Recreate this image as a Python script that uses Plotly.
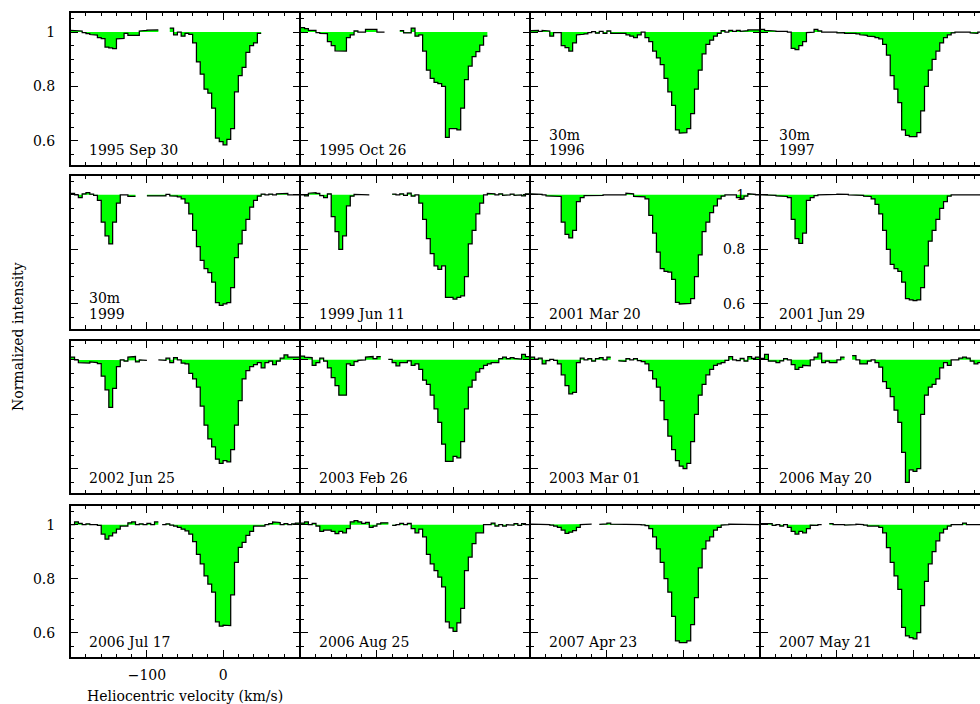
import plotly.graph_objects as go

# ---------------- data ----------------
VELOCITY = list(range(-200, 100, 5))   # channel start velocities (km/s)
BIN_WIDTH = 5
N = None

I_1995_SEP30 = [
    1.006, 1.005, 1.004, 0.998, 0.994, 0.991, 0.989, 0.98, 0.976, 0.945,
    0.942, 0.939, 0.975, 0.977, 0.995, 0.988, 0.988, 0.988, 1.004, 1.006,
    1.007, 1.008, 1.008, N, N, N, 1.015, 0.99, 1.0, 0.985,
    0.995, 0.992, 0.96, 0.89, 0.845, 0.79, 0.775, 0.72, 0.61, 0.597,
    0.585, 0.605, 0.645, 0.78, 0.84, 0.87, 0.925, 0.95, 0.96, 0.995,
    N, N, N, N, N, N, N, N, N, N]
I_1995_OCT26 = [
    1.016, 1.013, 1.006, 1.006, 0.998, 0.995, 0.994, 0.965, 0.95, 0.931,
    0.93, 0.93, 0.98, 0.99, 1.004, 1.0, 1.0, 1.01, 1.01, 1.01,
    1.0, 1.0, N, N, N, N, 1.005, 0.997, 0.997, 1.015,
    0.985, 0.99, 0.93, 0.86, 0.83, 0.815, 0.81, 0.8, 0.613, 0.645,
    0.645, 0.64, 0.72, 0.825, 0.875, 0.91, 0.928, 0.952, 0.985, N,
    N, N, N, N, N, N, N, N, N, N]
I_1996 = [
    1.005, 1.006, 1.003, 1.006, 1.004, 0.985, 0.998, 0.998, 0.95, 0.943,
    0.93, 0.96, 0.99, 0.992, 0.993, 0.998, 1.002, 0.996, 1.003, 0.995,
    1.004, 0.995, 0.995, 0.993, 0.995, 0.99, 0.985, 0.98, 0.99, 1.0,
    0.98, 0.965, 0.93, 0.905, 0.88, 0.83, 0.78, 0.73, 0.64, 0.628,
    0.63, 0.645, 0.7, 0.79, 0.86, 0.92, 0.955, 0.97, 0.985, 0.995,
    1.005, 1.0, 1.006, 1.003, 1.006, 1.003, 1.005, 1.008, 1.01, 1.008]
I_1997 = [
    1.01, 1.006, 1.005, 1.004, 1.003, 1.003, 1.003, 1.0, 0.94, 0.935,
    0.95, 0.965, 0.998, 1.0, 1.01, 1.004, 1.0, 1.0, 0.998, 1.0,
    0.997, 0.998, 0.995, 0.996, 0.995, 0.993, 0.99, 0.988, 0.985, 0.983,
    0.98, 0.975, 0.955, 0.915, 0.84, 0.79, 0.74, 0.64, 0.62, 0.615,
    0.615, 0.63, 0.71, 0.8, 0.86, 0.9, 0.93, 0.96, 0.98, 0.99,
    0.997, 1.0, 1.0, 0.998, 1.0, 0.997, 0.995, 1.0, 1.0, 1.0]
I_1999 = [
    1.005, 1.0, 0.99, 1.004, 1.008, 1.003, 0.998, 0.98, 0.9, 0.85,
    0.82, 0.9, 0.97, 1.0, 1.0, 0.994, 0.994, N, N, N,
    0.996, 0.996, 0.997, 0.995, 0.996, 1.002, 0.996, 0.995, 0.993, 0.985,
    0.97, 0.93, 0.87, 0.81, 0.76, 0.73, 0.715, 0.68, 0.605, 0.595,
    0.6, 0.605, 0.66, 0.77, 0.82, 0.87, 0.91, 0.955, 0.98, 0.995,
    1.003, 1.0, 1.003, 1.0, 1.004, 1.003, 1.005, 1.0, 1.0, 1.0]
I_1999_JUN11 = [
    1.0, 0.996, 1.006, 1.008, 1.005, 0.997, 0.99, 1.004, 0.92, 0.865,
    0.8, 0.85, 0.96, 0.995, 1.002, 1.0, 1.0, 1.0, N, N,
    N, N, N, N, 1.003, 1.0, 1.004, 0.998, 1.006, 0.995,
    1.0, 0.97, 0.91, 0.84, 0.785, 0.74, 0.727, 0.74, 0.624, 0.624,
    0.618, 0.624, 0.63, 0.7, 0.82, 0.87, 0.93, 0.97, 1.0, 1.005,
    1.004, 1.0, 1.004, 0.998, 1.0, 1.003, 0.998, 1.0, 0.996, 1.004]
I_2001_MAR20 = [
    1.004, 1.004, 1.002, 1.0, 0.996, 0.996, 0.994, 0.994, 0.9, 0.855,
    0.842, 0.87, 0.975, 0.99, 0.997, 0.998, 0.996, 0.998, 0.998, 1.0,
    1.002, 1.0, 1.0, 1.0, 1.0, 1.006, 1.004, 0.994, 0.994, 0.993,
    0.985, 0.925, 0.86, 0.79, 0.73, 0.72, 0.717, 0.69, 0.606, 0.6,
    0.6, 0.602, 0.62, 0.7, 0.78, 0.865, 0.9, 0.935, 0.96, 0.985,
    0.995, 1.0, 1.0, 1.0, 0.99, 0.985, 0.995, 1.004, 1.002, 1.0]
I_2001_JUN29 = [
    1.0, 1.0, 0.998, 0.998, 0.996, 0.995, 0.994, 0.99, 0.91, 0.84,
    0.822, 0.86, 0.98, 0.99, 0.997, 1.0, 1.0, 1.0, 1.002, 1.002,
    1.003, 1.004, 1.002, 1.0, 1.0, 1.0, 0.998, 0.995, 0.994, 0.985,
    0.965, 0.93, 0.87, 0.8, 0.745, 0.73, 0.72, 0.68, 0.62, 0.615,
    0.612, 0.615, 0.66, 0.74, 0.83, 0.87, 0.91, 0.95, 0.975, 0.995,
    1.0, 1.0, 1.0, 1.0, 1.0, 1.0, 1.0, 1.0, 1.0, 1.0]
I_2002_JUN25 = [
    1.01, 1.0, 0.99, 0.99, 0.988, 0.992, 0.99, 0.986, 0.94, 0.89,
    0.825, 0.895, 0.975, 1.0, 0.995, 1.01, 1.012, 0.992, 1.0, 0.998,
    N, N, N, 1.0, 0.998, 1.006, 0.99, 1.008, 1.0, 0.988,
    0.985, 0.95, 0.93, 0.9, 0.83, 0.76, 0.71, 0.68, 0.635, 0.62,
    0.63, 0.625, 0.67, 0.76, 0.85, 0.93, 0.96, 0.975, 0.982, 0.99,
    0.97, 0.99, 0.995, 0.982, 0.995, 1.006, 1.018, 1.01, 1.008, 1.01]
I_2003_FEB26 = [
    1.014, 1.01, 1.008, 0.98, 0.99, 1.006, 0.995, 0.97, 0.935, 0.905,
    0.87, 0.87, 0.985, 0.98, 0.993, 0.998, 1.0, 1.01, 1.012, 1.004,
    1.012, N, N, 1.002, 0.99, 0.978, 0.99, 0.99, 0.996, 0.98,
    0.985, 0.965, 0.925, 0.91, 0.87, 0.82, 0.77, 0.69, 0.627, 0.627,
    0.645, 0.64, 0.7, 0.82, 0.9, 0.925, 0.955, 0.968, 0.98, 0.985,
    0.99, 0.99, 1.004, 1.01, 1.004, 1.008, 1.005, 1.003, 1.02, 1.012]
I_2003_MAR01 = [
    1.01, 1.003, 1.006, 0.985, 0.997, 1.002, 0.998, 0.985, 0.945, 0.905,
    0.875, 0.88, 0.99, 1.006, 1.0, 1.004, 0.995, 1.004, 1.008, 1.0,
    1.01, N, N, 0.996, 0.994, 1.004, 1.0, 1.004, 0.997, 0.993,
    0.985, 0.96, 0.93, 0.9, 0.85, 0.78, 0.72, 0.67, 0.63, 0.61,
    0.6, 0.62, 0.7, 0.8, 0.87, 0.91, 0.945, 0.965, 0.98, 0.985,
    0.99, 0.998, 1.012, 1.0, 0.997, 1.005, 0.995, 1.012, 1.005, 1.01]
I_2006_MAY20 = [
    1.005, 1.02, 0.995, 0.995, 0.99, 0.996, 1.004, 1.0, 0.982, 0.965,
    0.972, 0.98, 0.978, 1.0, 1.01, 1.025, 0.99, 0.995, 0.99, 0.99,
    1.0, 1.01, N, N, 1.015, 1.0, 0.985, 0.985, 0.995, 1.0,
    0.99, 0.973, 0.92, 0.895, 0.865, 0.815, 0.77, 0.66, 0.55, 0.596,
    0.59, 0.6, 0.8, 0.87, 0.9, 0.91, 0.93, 0.97, 0.99, 0.98,
    1.0, 1.0, 1.006, 1.01, 1.006, 0.995, 0.985, 0.99, 1.0, 1.0]
I_2006_JUL17 = [
    1.0, 1.01, 1.005, 1.0, 1.003, 1.0, 1.0, 0.997, 0.965, 0.946,
    0.958, 0.97, 0.983, 0.995, 0.995, 1.007, 1.01, 1.0, 1.003, 1.0,
    1.005, 1.0, 1.01, N, 1.0, 1.003, 0.998, 0.995, 0.99, 0.983,
    0.977, 0.965, 0.937, 0.89, 0.855, 0.81, 0.78, 0.75, 0.64, 0.624,
    0.628, 0.626, 0.74, 0.86, 0.916, 0.934, 0.96, 0.975, 0.995, 0.993,
    0.995, 1.0, 1.004, 1.01, 1.008, 1.0, 1.004, 1.0, 1.003, 1.006]
I_2006_AUG25 = [
    1.006, 1.01, 1.0, 1.005, 0.995, 0.975, 0.98, 0.98, 0.975, 0.967,
    0.975, 0.97, 0.985, 1.01, 1.015, 1.01, 1.005, 1.008, 0.99, 0.995,
    1.003, 1.007, 1.007, N, 0.997, 1.0, 1.005, 1.0, 1.005, 0.985,
    0.97, 0.983, 0.955, 0.89, 0.855, 0.83, 0.806, 0.77, 0.64, 0.618,
    0.605, 0.636, 0.69, 0.83, 0.88, 0.93, 0.97, 0.97, 1.0, 1.0,
    1.006, 0.995, 1.0, 0.995, 1.0, 0.998, 1.004, 0.997, 1.004, 1.0]
I_2007_APR23 = [
    1.002, 1.0, 1.0, 1.0, 1.0, 0.998, 0.995, 0.99, 0.98, 0.968,
    0.972, 0.978, 0.99, 1.0, 1.0, 1.002, N, N, 1.001, 1.003,
    1.006, 1.002, 1.0, 1.0, 1.0, 1.0, 1.0, 1.0, 1.0, 0.999,
    0.996, 0.985, 0.955, 0.91, 0.86, 0.8, 0.75, 0.66, 0.57, 0.563,
    0.563, 0.57, 0.63, 0.73, 0.84, 0.91, 0.94, 0.955, 0.98, 0.99,
    0.998, 1.0, 1.002, 1.002, 1.0, 1.002, 1.002, 1.0, 1.0, 1.0]
I_2007_MAY21 = [
    1.004, 1.006, 1.004, 0.997, 1.0, 0.995, 1.0, 0.99, 0.975, 0.965,
    0.975, 0.97, 0.985, 0.998, 0.997, 1.0, N, N, 1.004, 1.0,
    1.002, 1.0, 0.998, 0.998, 1.0, 1.002, 1.0, 0.998, 0.995, 0.997,
    0.995, 0.99, 0.97, 0.915, 0.86, 0.81, 0.76, 0.62, 0.588, 0.582,
    0.577, 0.6, 0.7, 0.79, 0.855, 0.9, 0.94, 0.97, 0.983, 0.995,
    1.0, 1.0, 1.0, 1.006, 1.0, 1.0, 1.0, 0.998, 1.0, 1.0]

PANEL_LABELS = [
    ["1995 Sep 30"], ["1995 Oct 26"], ["30m", "1996"], ["30m", "1997"],
    ["30m", "1999"], ["1999 Jun 11"], ["2001 Mar 20"], ["2001 Jun 29"],
    ["2002 Jun 25"], ["2003 Feb 26"], ["2003 Mar 01"], ["2006 May 20"],
    ["2006 Jul 17"], ["2006 Aug 25"], ["2007 Apr 23"], ["2007 May 21"],
]
PANEL_DATA = [
    I_1995_SEP30, I_1995_OCT26, I_1996, I_1997,
    I_1999, I_1999_JUN11, I_2001_MAR20, I_2001_JUN29,
    I_2002_JUN25, I_2003_FEB26, I_2003_MAR01, I_2006_MAY20,
    I_2006_JUL17, I_2006_AUG25, I_2007_APR23, I_2007_MAY21,
]
Y_TICK_VALS = [0.6, 0.8, 1.0]
Y_TICK_TEXT = ["0.6", "0.8", "1"]
X_TICK_VALS = [-100, 0]
X_TICK_TEXT = ["\u2212100", "0"]
X_TITLE = "Heliocentric velocity (km/s)"
Y_TITLE = "Normalized intensity"

# ---------------- layout geometry (viewport pixels) ----------------
W, H = 980, 704
LW = 1.5                             # frame line width
COL_PX = [(70, 300), (300, 530), (530, 760), (760, 990)]   # frame line centres
ROW_PX = [(12.3, 166), (175, 329.3), (340, 494), (505, 657.7)]
X_RANGE = (-200, 100)
Y_RANGE = (0.51, 1.07)
YLABEL_PANELS = {1, 8, 13}
XLABEL_PANELS = {13}
FONT = "DejaVu Serif"
FSIZE = 14
GREEN = "#00ff00"


def px_x(v):
    return v / W


def px_y(v):
    return 1 - v / H


def build_steps(vel, vals, width):
    lx, ly, fx, fy = [], [], [], []
    segs, cur = [], []
    for v, y in zip(vel, vals):
        if y is None:
            if cur:
                segs.append(cur)
            cur = []
        else:
            cur.append((v, y))
    if cur:
        segs.append(cur)
    for seg in segs:
        sx, sy = [], []
        for v, y in seg:
            sx += [v, v + width]
            sy += [y, y]
        lx += sx + [None]
        ly += sy + [None]
        fx += sx + [sx[-1], sx[0], None]
        fy += sy + [1.0, 1.0, None]
    return lx, ly, fx, fy


fig = go.Figure()
layout = {}
annotations = []
half = LW / 2

for idx, (vals, labels) in enumerate(zip(PANEL_DATA, PANEL_LABELS)):
    i = idx + 1
    r, c = divmod(idx, 4)
    xa = "x" if i == 1 else f"x{i}"
    ya = "y" if i == 1 else f"y{i}"
    lx, ly, fx, fy = build_steps(VELOCITY, vals, BIN_WIDTH)
    fig.add_trace(go.Scatter(x=fx, y=fy, xaxis=xa, yaxis=ya, mode="lines",
                             fill="toself", fillcolor=GREEN,
                             line=dict(width=0, color=GREEN),
                             hoverinfo="skip", showlegend=False))
    fig.add_trace(go.Scatter(x=lx, y=ly, xaxis=xa, yaxis=ya, mode="lines",
                             line=dict(width=1.25, color="black"),
                             connectgaps=False, showlegend=False))

    cx0, cx1 = COL_PX[c]
    d0 = cx0 + half
    d1_full = cx1 - half
    d1 = min(d1_full, W)
    span = X_RANGE[1] - X_RANGE[0]
    xr_end = X_RANGE[0] + span * (d1 - d0) / (d1_full - d0)
    ry0, ry1 = ROW_PX[r]
    e0, e1 = ry0 + half, ry1 - half

    xkey = "xaxis" if i == 1 else f"xaxis{i}"
    ykey = "yaxis" if i == 1 else f"yaxis{i}"
    layout[xkey] = dict(
        domain=[px_x(d0), min(px_x(d1), 1.0)], anchor=ya, range=[X_RANGE[0], xr_end],
        showline=True, linecolor="black", linewidth=LW, mirror="ticks",
        ticks="inside", ticklen=7, tickwidth=1.3, tickcolor="black",
        tickmode="array", tickvals=X_TICK_VALS, ticktext=X_TICK_TEXT,
        showticklabels=(i in XLABEL_PANELS), ticklabelstandoff=4,
        tickfont=dict(family=FONT, size=FSIZE, color="black"),
        minor=dict(ticks="inside", ticklen=3.5, tickwidth=1.2, tickcolor="black",
                   tickmode="linear", tick0=0, dtick=20, showgrid=False),
        showgrid=False, zeroline=False, fixedrange=True,
    )
    layout[ykey] = dict(
        domain=[px_y(e1), px_y(e0)], anchor=xa, range=list(Y_RANGE),
        showline=True, linecolor="black", linewidth=LW,
        mirror=("ticks" if c < 3 else False),
        ticks="inside", ticklen=7, tickwidth=1.3, tickcolor="black",
        tickmode="array", tickvals=Y_TICK_VALS, ticktext=Y_TICK_TEXT,
        showticklabels=(i in YLABEL_PANELS), ticklabelstandoff=11,
        tickfont=dict(family=FONT, size=FSIZE, color="black"),
        minor=dict(ticks="inside", ticklen=3.5, tickwidth=1.2, tickcolor="black",
                   tickmode="linear", tick0=0, dtick=0.05, showgrid=False),
        showgrid=False, zeroline=False, fixedrange=True,
    )

    ph = e1 - e0
    pw = d1_full - d0
    lines = list(reversed(labels))
    for k, txt in enumerate(lines):
        annotations.append(dict(
            text=txt, xref=f"{xa} domain", yref=f"{ya} domain",
            x=16 / (d1 - d0), y=(15 + 15.5 * k) / ph, xanchor="left", yanchor="middle",
            showarrow=False, font=dict(family=FONT, size=FSIZE, color="black")))

annotations.append(dict(text=X_TITLE, xref="paper", yref="paper",
                        x=px_x(185), y=px_y(696), xanchor="center", yanchor="middle",
                        showarrow=False, font=dict(family=FONT, size=FSIZE, color="black")))
annotations.append(dict(text=Y_TITLE, xref="paper", yref="paper",
                        x=px_x(18), y=px_y(337), xanchor="center", yanchor="middle",
                        textangle=-90, showarrow=False,
                        font=dict(family=FONT, size=FSIZE, color="black")))

fig.update_layout(
    width=W, height=H, autosize=False,
    margin=dict(l=0, r=0, t=0, b=0, pad=0),
    paper_bgcolor="white", plot_bgcolor="white",
    showlegend=False, annotations=annotations,
    font=dict(family=FONT, size=FSIZE, color="black"),
    **layout,
)

fig.write_html(
    "out.html",
    config={"displayModeBar": False},
    post_script="document.body.style.margin='0px';"
                "document.body.style.overflow='hidden';"
                "document.documentElement.style.overflow='hidden';",
)
